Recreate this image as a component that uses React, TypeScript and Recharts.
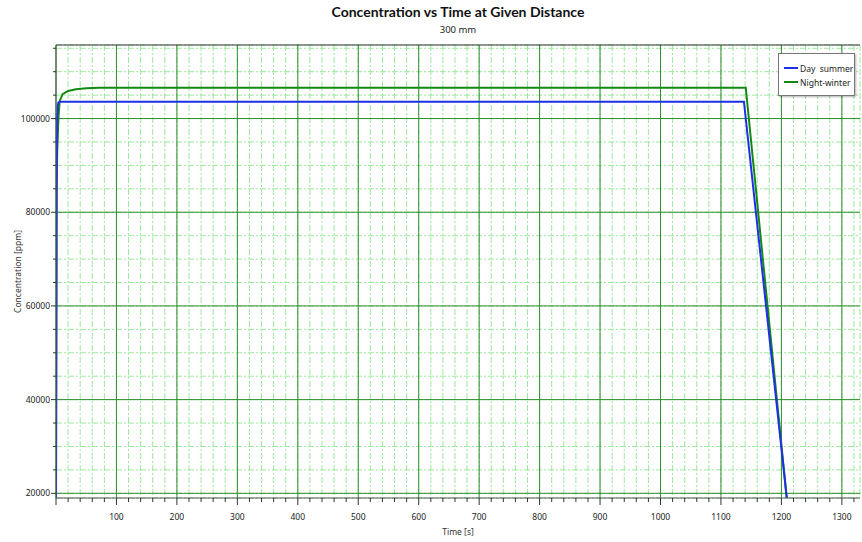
import {
  LineChart,
  Line,
  XAxis,
  YAxis,
  CartesianGrid,
  ReferenceLine,
  Label,
} from "recharts";

// Day summer series (time [s], concentration [ppm])
const dayTime = [0, 1, 2, 3, 4, 6, 1138, 1210];
const dayConc = [19000, 85000, 100000, 102800, 103400, 103600, 103600, 17700];

// Night-winter series
const nightTime = [0, 1, 2, 4, 6, 11, 20, 33, 50, 72, 1141, 1210];
const nightConc = [19000, 84000, 93000, 100000, 103700, 105200, 105900, 106250, 106450, 106600, 106600, 17400];

const xMajor = [100, 200, 300, 400, 500, 600, 700, 800, 900, 1000, 1100, 1200, 1300];
const yMajor = [20000, 40000, 60000, 80000, 100000];
const xTicks = Array.from({ length: 67 }, (_, i) => i * 20);
const yTicks = Array.from({ length: 20 }, (_, i) => 20000 + i * 5000);

const X_DOMAIN = [0, 1330];
const Y_DOMAIN = [19000, 115700];

const dayData = dayTime.map((t, i) => ({ t, v: dayConc[i] }));
const nightData = nightTime.map((t, i) => ({ t, v: nightConc[i] }));

const FONT = "'Segoe UI', 'Noto Sans', sans-serif";
const DAY_COLOR = "#1f2fe8";
const NIGHT_COLOR = "#128a12";
const MAJOR_GRID = "#2f8f2f";
const MINOR_GRID = "#9de89d";

const legendItems = [
  { name: "Day  summer", color: DAY_COLOR },
  { name: "Night-winter", color: NIGHT_COLOR },
];

const XTick = ({ x, y, payload }: any) => {
  const v = payload.value;
  const major = v % 100 === 0;
  return (
    <g>
      <line x1={x} x2={x} y1={y} y2={y + (major ? 7 : 4)} stroke="#333" strokeWidth={1} />
      {major && v > 0 && (
        <text x={x} y={y + 22} textAnchor="middle" fontSize={8.5} fill="#222" fontFamily={FONT}>
          {v}
        </text>
      )}
    </g>
  );
};

const YTick = ({ x, y, payload }: any) => {
  const v = payload.value;
  const major = v % 20000 === 0;
  return (
    <g>
      <line x1={x - (major ? 5 : 3)} x2={x} y1={y} y2={y} stroke="#333" strokeWidth={1} />
      {major && (
        <text x={x - 6} y={y + 3} textAnchor="end" fontSize={8.5} fill="#222" fontFamily={FONT}>
          {v}
        </text>
      )}
    </g>
  );
};

export default function App() {
  return (
    <div style={{ position: "absolute", left: 0, top: 0, width: 862, height: 542, background: "#fff" }}>
      <div
        style={{
          position: "absolute",
          left: 56,
          width: 804,
          top: 3,
          textAlign: "center",
          fontFamily: "Lato, 'Noto Sans', sans-serif",
          fontWeight: 700,
          fontSize: 14,
          color: "#111",
        }}
      >
        Concentration vs Time at Given Distance
      </div>
      <div
        style={{
          position: "absolute",
          left: 56,
          width: 804,
          top: 23,
          textAlign: "center",
          fontFamily: FONT,
          fontSize: 9.5,
          color: "#222",
        }}
      >
        300 mm
      </div>
      <LineChart width={862} height={542} margin={{ top: 45, right: 2, bottom: 0, left: 0 }}>
        <CartesianGrid stroke={MINOR_GRID} strokeDasharray="6 2 2 2" />
        <XAxis
          type="number"
          dataKey="t"
          domain={X_DOMAIN}
          ticks={xTicks}
          interval={0}
          allowDataOverflow
          height={44}
          tickSize={0}
          tickMargin={0}
          tickLine={false}
          tick={<XTick />}
          axisLine={{ stroke: "#555" }}
        >
          <Label value="Time [s]" position="insideBottom" offset={7} fontSize={8.5} fill="#333" fontFamily={FONT} />
        </XAxis>
        <YAxis
          type="number"
          dataKey="v"
          domain={Y_DOMAIN}
          ticks={yTicks}
          interval={0}
          allowDataOverflow
          width={56}
          tickSize={0}
          tickMargin={0}
          tickLine={false}
          tick={<YTick />}
          axisLine={{ stroke: "#555" }}
        >
          <Label
            value="Concentration [ppm]"
            angle={-90}
            position="insideLeft"
            offset={18}
            style={{ textAnchor: "middle" }}
            fontSize={8.5}
            fill="#333"
            fontFamily={FONT}
          />
        </YAxis>
        {xMajor.map((v) => (
          <ReferenceLine key={"x" + v} x={v} stroke={MAJOR_GRID} strokeWidth={1} />
        ))}
        {yMajor.map((v) => (
          <ReferenceLine key={"y" + v} y={v} stroke={MAJOR_GRID} strokeWidth={1} />
        ))}
        <ReferenceLine x={0} stroke={MAJOR_GRID} strokeWidth={1} />
        <ReferenceLine y={Y_DOMAIN[1]} stroke="#333" strokeWidth={1} />
        <Line
          data={nightData}
          dataKey="v"
          name="Night-winter"
          type="linear"
          stroke={NIGHT_COLOR}
          strokeWidth={2}
          dot={false}
          isAnimationActive={false}
        />
        <Line
          data={dayData}
          dataKey="v"
          name="Day  summer"
          type="linear"
          stroke={DAY_COLOR}
          strokeWidth={2}
          dot={false}
          isAnimationActive={false}
        />
      </LineChart>
      <div
        style={{
          position: "absolute",
          left: 778,
          top: 53,
          width: 77,
          height: 43,
          boxSizing: "border-box",
          background: "#fff",
          border: "1px solid #777",
          boxShadow: "1px 1px 2px rgba(0,0,0,0.3)",
          padding: "7px 0 0 5px",
          fontFamily: FONT,
          fontSize: 8.5,
          color: "#222",
        }}
      >
        {legendItems.map((e) => (
          <div key={e.name} style={{ display: "flex", alignItems: "center", height: 14 }}>
            <span style={{ flexShrink: 0, display: "inline-block", width: 14, height: 2, background: e.color, marginRight: 2 }} />
            <span style={{ whiteSpace: "pre" }}>{e.name}</span>
          </div>
        ))}
      </div>
    </div>
  );
}
